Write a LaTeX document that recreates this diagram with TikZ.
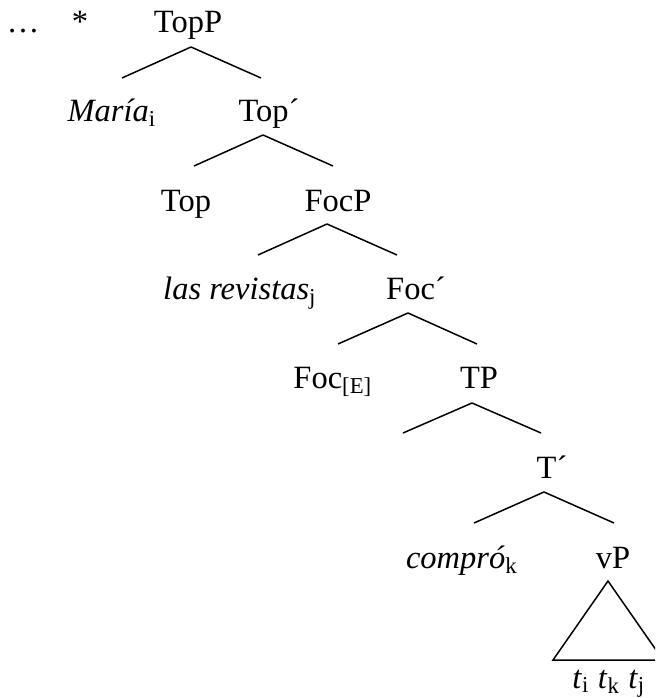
\documentclass[tikz,border=0pt]{standalone}
\usepackage{fontspec}
\setmainfont{Liberation Serif}
\usepackage{tikz}

\begin{document}
\begin{tikzpicture}[
    x=0.4pt, y=-0.4pt,
    every node/.style={anchor=base, inner sep=0pt, font=\fontsize{13}{15}\selectfont},
    branch/.style={line width=0.6pt},
  ]

  \clip (0,0) rectangle (655,698);
  \useasboundingbox (0,0) rectangle (655,698);

  \node (dots)     at (23, 33)   {\ldots};
  \node (star)     at (80, 33)   {*};
  \node (topp)     at (188, 33)  {TopP};
  \node (maria)    at (112, 122) {\textit{María}\textsubscript{i}};
  \node (topbar)   at (269, 122) {Top´};
  \node (top)      at (186, 212) {Top};
  \node (focp)     at (338, 212) {FocP};
  \node (revistas) at (240, 300) {\textit{las revistas}\textsubscript{j}};
  \node (focbar)   at (416, 300) {Foc´};
  \node (foce)     at (333, 388) {Foc\textsubscript{[E]}};
  \node (tp)       at (479, 388) {TP};
  \node (tbar)     at (552, 478) {T´};
  \node (compro)   at (462, 568) {\textit{compró}\textsubscript{k}};
  \node (vp)       at (613, 568) {vP};
  \node (traces)   at (609, 688) {\textit{t}\textsubscript{i} \textit{t}\textsubscript{k} \textit{t}\textsubscript{j}};

  \coordinate (topp-v)   at (191, 47);
  \coordinate (topbar-v) at (263, 135);
  \coordinate (focp-v)   at (327, 224);
  \coordinate (focbar-v) at (408, 313);
  \coordinate (tp-v)     at (472, 403);
  \coordinate (tbar-v)   at (544, 492);
  \coordinate (vp-v)     at (608, 581);

  \draw[branch] (topp-v) -- ++(-69, 31);
  \draw[branch] (topp-v) -- ++(70, 31);
  \draw[branch] (topbar-v) -- ++(-69, 31);
  \draw[branch] (topbar-v) -- ++(70, 31);
  \draw[branch] (focp-v) -- ++(-69, 31);
  \draw[branch] (focp-v) -- ++(70, 31);
  \draw[branch] (focbar-v) -- ++(-70, 31);
  \draw[branch] (focbar-v) -- ++(69, 31);
  \draw[branch] (tp-v) -- ++(-69, 30);
  \draw[branch] (tp-v) -- ++(69, 30);
  \draw[branch] (tbar-v) -- ++(-70, 31);
  \draw[branch] (tbar-v) -- ++(70, 31);
  \draw[branch] (vp-v) -- ++(-55, 79) -- ++(110, 0) -- cycle;

\end{tikzpicture}
\end{document}
